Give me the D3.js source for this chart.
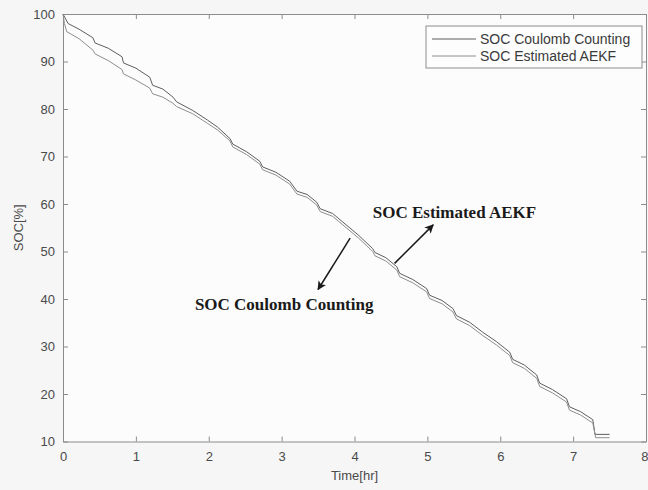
<!DOCTYPE html>
<html>
<head>
<meta charset="utf-8">
<script src="https://cdn.jsdelivr.net/npm/d3@7"></script>
<style>
  html, body { margin: 0; padding: 0; background: #f6f6f6; }
  svg { display: block; }
</style>
</head>
<body>
<svg id="chart" width="648" height="490"></svg>
<script>
// Discharge test: SOC by Coulomb counting vs. AEKF estimate
const timeCC = [0, 0.07, 0.22, 0.41, 0.44, 0.62, 0.81, 0.83, 1.0, 1.19, 1.23, 1.37, 1.51, 1.56, 1.78,
  1.98, 2.12, 2.29, 2.33, 2.52, 2.70, 2.74, 2.92, 3.11, 3.21, 3.35, 3.48, 3.53, 3.70, 3.84,
  4.05, 4.25, 4.28, 4.43, 4.58, 4.62, 4.80, 4.99, 5.03, 5.20, 5.35, 5.40, 5.58, 5.76, 5.95,
  6.13, 6.17, 6.33, 6.50, 6.54, 6.72, 6.91, 6.95, 7.10, 7.27, 7.30, 7.50];
const socCC = [100, 98.0, 96.8, 95.0, 93.9, 92.8, 91.0, 89.7, 88.6, 86.7, 85.0, 84.2, 82.5, 81.5, 79.7,
  77.7, 76.2, 73.8, 72.6, 71.0, 69.0, 67.8, 66.7, 64.8, 62.7, 62.0, 60.4, 59.0, 58.0, 56.2,
  53.5, 50.6, 49.8, 48.7, 46.8, 45.4, 44.1, 42.2, 40.8, 39.7, 38.0, 36.5, 35.1, 33.0, 31.0,
  28.8, 27.3, 26.1, 24.0, 22.3, 20.9, 19.0, 17.3, 16.3, 14.6, 11.5, 11.5];

const timeAEKF = [0, 0.02, 0.05, 0.22, 0.41, 0.44, 0.62, 0.81, 0.83, 1.0, 1.19, 1.23, 1.37, 1.51, 1.56,
  1.78, 1.98, 2.12, 2.29, 2.33, 2.52, 2.70, 2.74, 2.92, 3.11, 3.21, 3.35, 3.48, 3.53, 3.70,
  3.84, 4.05, 4.25, 4.28, 4.43, 4.58, 4.62, 4.80, 4.99, 5.03, 5.20, 5.35, 5.40, 5.58, 5.76,
  5.95, 6.13, 6.17, 6.33, 6.50, 6.54, 6.72, 6.91, 6.95, 7.10, 7.27, 7.31, 7.50];
const socAEKF = [100, 98.0, 96.3, 94.8, 92.4, 91.6, 90.2, 88.3, 87.4, 86.1, 84.4, 83.2, 82.5, 81.2, 80.5,
  79.0, 77.0, 75.6, 73.3, 72.0, 70.4, 68.4, 67.2, 66.1, 64.2, 62.1, 61.4, 59.8, 58.4, 57.4,
  55.6, 52.9, 50.0, 49.1, 48.0, 46.1, 44.7, 43.4, 41.5, 40.1, 39.0, 37.3, 35.8, 34.4, 32.3,
  30.3, 28.1, 26.6, 25.4, 23.3, 21.6, 20.2, 18.3, 16.6, 15.6, 13.9, 10.8, 10.8];

const xTicks = [0, 1, 2, 3, 4, 5, 6, 7, 8];
const yTicks = [10, 20, 30, 40, 50, 60, 70, 80, 90, 100];
const seriesNames = ["SOC Coulomb Counting", "SOC Estimated AEKF"];

const svg = d3.select("#chart");
const margin = { left: 63, right: 2, top: 14, bottom: 48.5 };
const W = 648, H = 490;

const x = d3.scaleLinear().domain([0, 8]).range([margin.left, W - margin.right]);
const y = d3.scaleLinear().domain([10, 100]).range([H - margin.bottom, margin.top]);

const frameColor = "#8c8c8c";
const textColor = "#4a4a4a";

// plot area
svg.append("rect")
  .attr("x", x(0)).attr("y", y(100))
  .attr("width", x(8) - x(0)).attr("height", y(10) - y(100))
  .attr("fill", "#fcfcfc");

// axes with inward ticks on all four sides
function styleAxis(g) {
  g.selectAll(".domain").attr("stroke", frameColor);
  g.selectAll(".tick line").attr("stroke", frameColor);
  g.selectAll("text")
    .attr("fill", textColor)
    .attr("font-family", "Liberation Sans, Arial, sans-serif")
    .attr("font-size", 13);
}

const xAxisG = svg.append("g")
  .attr("transform", `translate(0,${y(10)})`)
  .call(d3.axisBottom(x).tickValues(xTicks).tickSizeInner(-5).tickSizeOuter(0).tickPadding(10))
  .call(styleAxis);
// last label sits at the window edge: keep it inside
xAxisG.selectAll(".tick text").filter(d => d === 8)
  .attr("text-anchor", "end").attr("dx", 2);

svg.append("g")
  .attr("transform", `translate(0,${y(100)})`)
  .call(d3.axisTop(x).tickValues(xTicks).tickSizeInner(-5).tickSizeOuter(0).tickFormat(""))
  .call(styleAxis);

svg.append("g")
  .attr("transform", `translate(${x(0)},0)`)
  .call(d3.axisLeft(y).tickValues(yTicks).tickSizeInner(-5).tickSizeOuter(0).tickPadding(8))
  .call(styleAxis);

svg.append("g")
  .attr("transform", `translate(${x(8)},0)`)
  .call(d3.axisRight(y).tickValues(yTicks).tickSizeInner(-5).tickSizeOuter(0).tickFormat(""))
  .call(styleAxis);

// axis titles
svg.append("text")
  .attr("x", (x(0) + x(8)) / 2).attr("y", 480)
  .attr("text-anchor", "middle")
  .attr("fill", textColor)
  .attr("font-family", "Liberation Sans, Arial, sans-serif")
  .attr("font-size", 13)
  .text("Time[hr]");

svg.append("text")
  .attr("transform", `translate(23,${(y(10) + y(100)) / 2}) rotate(-90)`)
  .attr("text-anchor", "middle")
  .attr("fill", textColor)
  .attr("font-family", "Liberation Sans, Arial, sans-serif")
  .attr("font-size", 13)
  .text("SOC[%]");

// SOC traces
const line = d3.line().x(d => x(d[0])).y(d => y(d[1]));
const series = [
  { name: seriesNames[0], pts: d3.zip(timeCC, socCC), color: "#5e5e5e" },
  { name: seriesNames[1], pts: d3.zip(timeAEKF, socAEKF), color: "#8e8e8e" }
];

svg.append("g").selectAll("path")
  .data(series)
  .join("path")
  .attr("d", d => line(d.pts))
  .attr("fill", "none")
  .attr("stroke", d => d.color)
  .attr("stroke-width", 1);

// legend
const lg = svg.append("g").attr("transform", "translate(426,26)");
lg.append("rect")
  .attr("width", 216).attr("height", 42)
  .attr("fill", "#fdfdfd").attr("stroke", frameColor).attr("stroke-width", 1);
series.forEach((s, i) => {
  const yy = 13 + i * 17;
  lg.append("line")
    .attr("x1", 6).attr("x2", 50).attr("y1", yy).attr("y2", yy)
    .attr("stroke", s.color).attr("stroke-width", 1);
  lg.append("text")
    .attr("x", 54).attr("y", yy + 5)
    .attr("fill", "#3a3a3a")
    .attr("font-family", "Liberation Sans, Arial, sans-serif")
    .attr("font-size", 14)
    .text(s.name);
});

// callouts with arrows
const defs = svg.append("defs");
defs.append("marker")
  .attr("id", "arrowhead")
  .attr("viewBox", "0 0 10 10")
  .attr("refX", 9).attr("refY", 5)
  .attr("markerWidth", 9).attr("markerHeight", 9)
  .attr("markerUnits", "userSpaceOnUse")
  .attr("orient", "auto")
  .append("path")
  .attr("d", "M0,0 L10,5 L0,10 L2.5,5 Z")
  .attr("fill", "#1a1a1a");

const callouts = [
  { label: seriesNames[1], from: [4.55, 47.5], to: [5.08, 55.6], text: [4.25, 58.3] },
  { label: seriesNames[0], from: [3.94, 52.8], to: [3.50, 42.0], text: [1.81, 38.9] }
];

callouts.forEach(c => {
  svg.append("line")
    .attr("x1", x(c.from[0])).attr("y1", y(c.from[1]))
    .attr("x2", x(c.to[0])).attr("y2", y(c.to[1]))
    .attr("stroke", "#1a1a1a").attr("stroke-width", 1.5)
    .attr("marker-end", "url(#arrowhead)");
  svg.append("text")
    .attr("x", x(c.text[0])).attr("y", y(c.text[1]))
    .attr("dy", "0.35em")
    .attr("fill", "#1a1a1a")
    .attr("font-family", "Liberation Serif, Times New Roman, serif")
    .attr("font-weight", "bold")
    .attr("font-size", 17)
    .text(c.label);
});
</script>
</body>
</html>
